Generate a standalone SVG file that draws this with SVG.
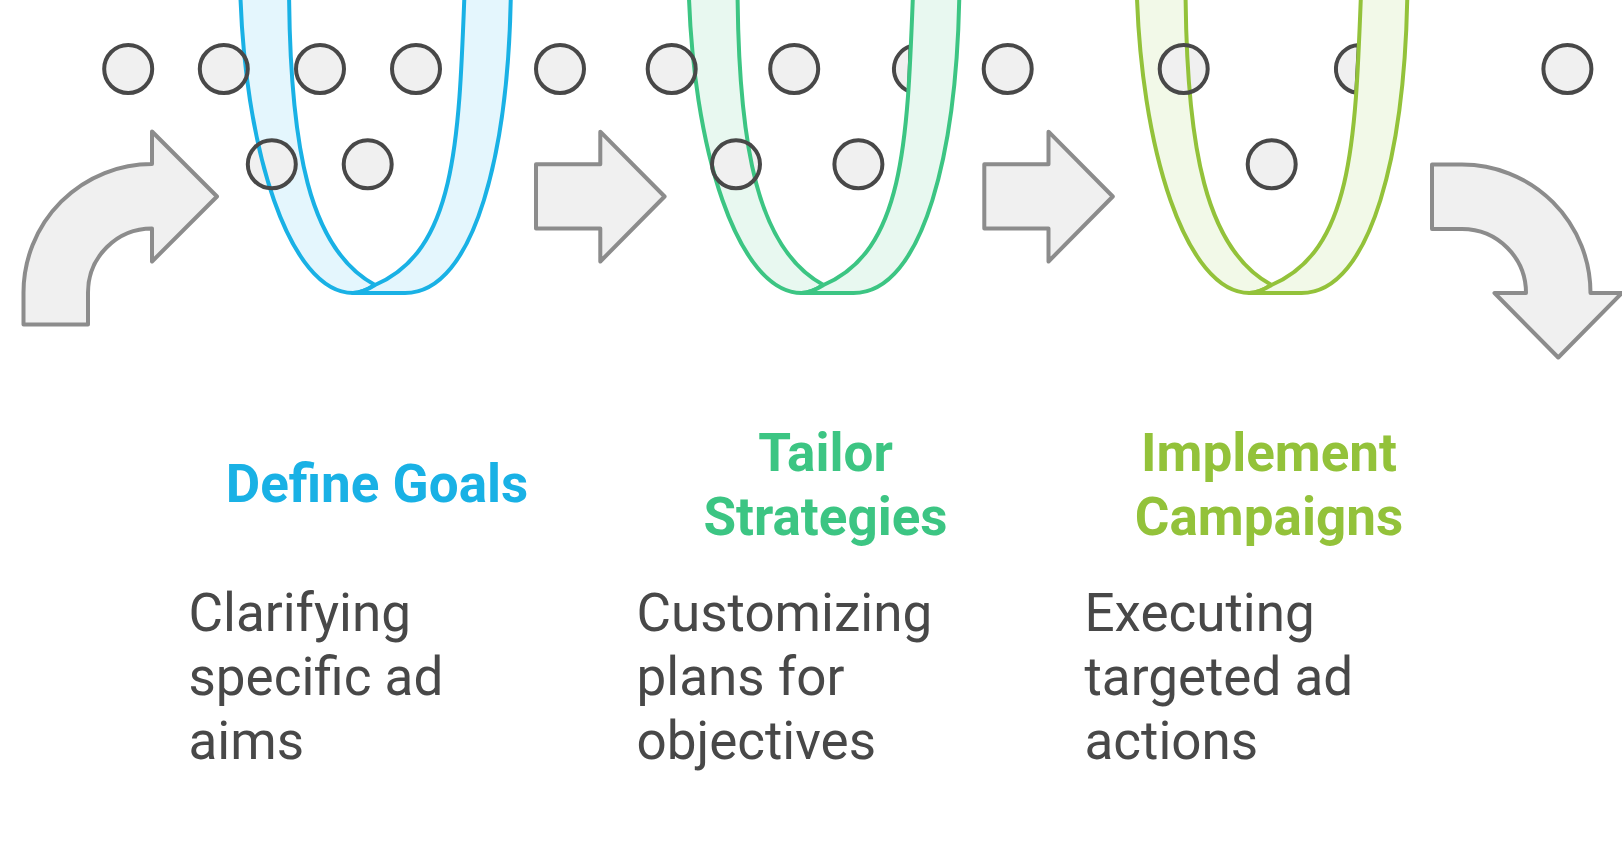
<svg xmlns="http://www.w3.org/2000/svg" width="1622" height="856" viewBox="0 0 1622 856">
<defs>
<style>
.arrow{fill:#F0F0F0;stroke:#8C8C8C;stroke-width:4;stroke-linejoin:round}
.dotf{fill:#F0F0F0;stroke:none}
.dots{fill:none;stroke:#484848;stroke-width:4}
.fo{stroke:none}
.so{fill:none;stroke-width:4;stroke-linejoin:round}
.band{stroke-width:4;stroke-linejoin:round}
.b-fill{fill:#E4F6FD}.b-line{stroke:#19B1E5}
.g-fill{fill:#E8F8F0}.g-line{stroke:#3CC583}
.l-fill{fill:#F2F9E8}.l-line{stroke:#93C23A}
.h{font-family:Roboto,"Liberation Sans",sans-serif;font-weight:700;font-size:53px;text-anchor:middle}
.d{font-family:Roboto,"Liberation Sans",sans-serif;font-size:53px;fill:#484848}
.bt{fill:#19B1E5}.gt{fill:#3CC583}.lt{fill:#93C23A}
</style>
<path id="back" d="M-135,-20 C-132,150 -85,293 -22,293 C-15,293 -8,290 0,285 C-65,250 -86,150 -86,-20 Z"/>
<path id="front" d="M90,-20 C84,140 82,250 0,285 C-8,290 -15,293 -22,293 L30,293 C100,293 135,150 136,-20 Z"/>
</defs>
<rect width="1622" height="856" fill="#FFFFFF"/>

<g id="connectors">
<path class="arrow" d="M23.5,324.5 L23.5,292.5 A128.5,128.5 0 0 1 152,164 L152,131.5 L217,196.5 L152,261.5 L152,228.5 A64,64 0 0 0 88,292.5 L88,324.5 Z"/>
<path class="arrow" d="M536,164.3 L600.3,164.3 L600.3,131.7 L664.6,196.5 L600.3,261.5 L600.3,228.5 L536,228.5 Z"/>
<path class="arrow" d="M984.3,164.3 L1048.5,164.3 L1048.5,131.7 L1112.8,196.5 L1048.5,261.5 L1048.5,228.5 L984.3,228.5 Z"/>
<path class="arrow" d="M1432,164.5 L1462,164.5 A128.5,128.5 0 0 1 1590.5,293 L1622,293 L1558.25,357.5 L1494.5,293 L1526,293 A64,64 0 0 0 1462,229 L1432,229 Z"/>
</g>

<g id="step-define-goals">
<use href="#back" x="375" class="fo b-fill"/>
<g class="dotf">
<circle cx="128.2" cy="69" r="24"/><circle cx="223.8" cy="69" r="24"/><circle cx="320" cy="69" r="24"/><circle cx="416" cy="69" r="24"/>
<circle cx="271.8" cy="164.3" r="24"/><circle cx="367.7" cy="164.3" r="24"/>
</g>
<use href="#back" x="375" class="so b-line"/>
<g class="dots">
<circle cx="128.2" cy="69" r="24"/><circle cx="223.8" cy="69" r="24"/><circle cx="320" cy="69" r="24"/><circle cx="416" cy="69" r="24"/>
<circle cx="271.8" cy="164.3" r="24"/><circle cx="367.7" cy="164.3" r="24"/>
</g>
<use href="#front" x="375" class="band b-fill b-line"/>
<text class="h bt" x="377" y="502.3">Define Goals</text>
<text class="d" x="188.5" y="630.5">Clarifying</text>
<text class="d" x="188.5" y="694.5">specific ad</text>
<text class="d" x="188.5" y="758.5">aims</text>
</g>

<g id="step-tailor-strategies">
<use href="#back" x="823.5" class="fo g-fill"/>
<g class="dotf">
<circle cx="560" cy="69" r="24"/><circle cx="671.7" cy="69" r="24"/><circle cx="794.2" cy="69" r="24"/><circle cx="1007.7" cy="69" r="24"/>
<circle cx="736" cy="164.3" r="24"/><circle cx="858.4" cy="164.3" r="24"/>
<path d="M910.5,46.2 A24,24 0 0 0 909,91.3 Z"/>
</g>
<use href="#back" x="823.5" class="so g-line"/>
<g class="dots">
<circle cx="560" cy="69" r="24"/><circle cx="671.7" cy="69" r="24"/><circle cx="794.2" cy="69" r="24"/><circle cx="1007.7" cy="69" r="24"/>
<circle cx="736" cy="164.3" r="24"/><circle cx="858.4" cy="164.3" r="24"/>
<path d="M910.5,46.2 A24,24 0 0 0 909,91.3 Z"/>
</g>
<use href="#front" x="823.5" class="band g-fill g-line"/>
<text class="h gt" x="825.5" y="470.7">Tailor</text>
<text class="h gt" x="825.5" y="535">Strategies</text>
<text class="d" x="636.5" y="630.5">Customizing</text>
<text class="d" x="636.5" y="694.5">plans for</text>
<text class="d" x="636.5" y="758.5">objectives</text>
</g>

<g id="step-implement-campaigns">
<use href="#back" x="1271.5" class="fo l-fill"/>
<g class="dotf">
<circle cx="1183.7" cy="69" r="24"/><circle cx="1567.4" cy="69" r="24"/>
<circle cx="1271.7" cy="164.3" r="24"/>
<path d="M1358.8,45 A24,24 0 0 0 1356.3,92.7 Z"/>
</g>
<use href="#back" x="1271.5" class="so l-line"/>
<g class="dots">
<circle cx="1183.7" cy="69" r="24"/><circle cx="1567.4" cy="69" r="24"/>
<circle cx="1271.7" cy="164.3" r="24"/>
<path d="M1358.8,45 A24,24 0 0 0 1356.3,92.7 Z"/>
</g>
<use href="#front" x="1271.5" class="band l-fill l-line"/>
<text class="h lt" x="1269" y="470.7">Implement</text>
<text class="h lt" x="1269" y="535">Campaigns</text>
<text class="d" x="1084.5" y="630.5">Executing</text>
<text class="d" x="1084.5" y="694.5">targeted ad</text>
<text class="d" x="1084.5" y="758.5">actions</text>
</g>
</svg>
